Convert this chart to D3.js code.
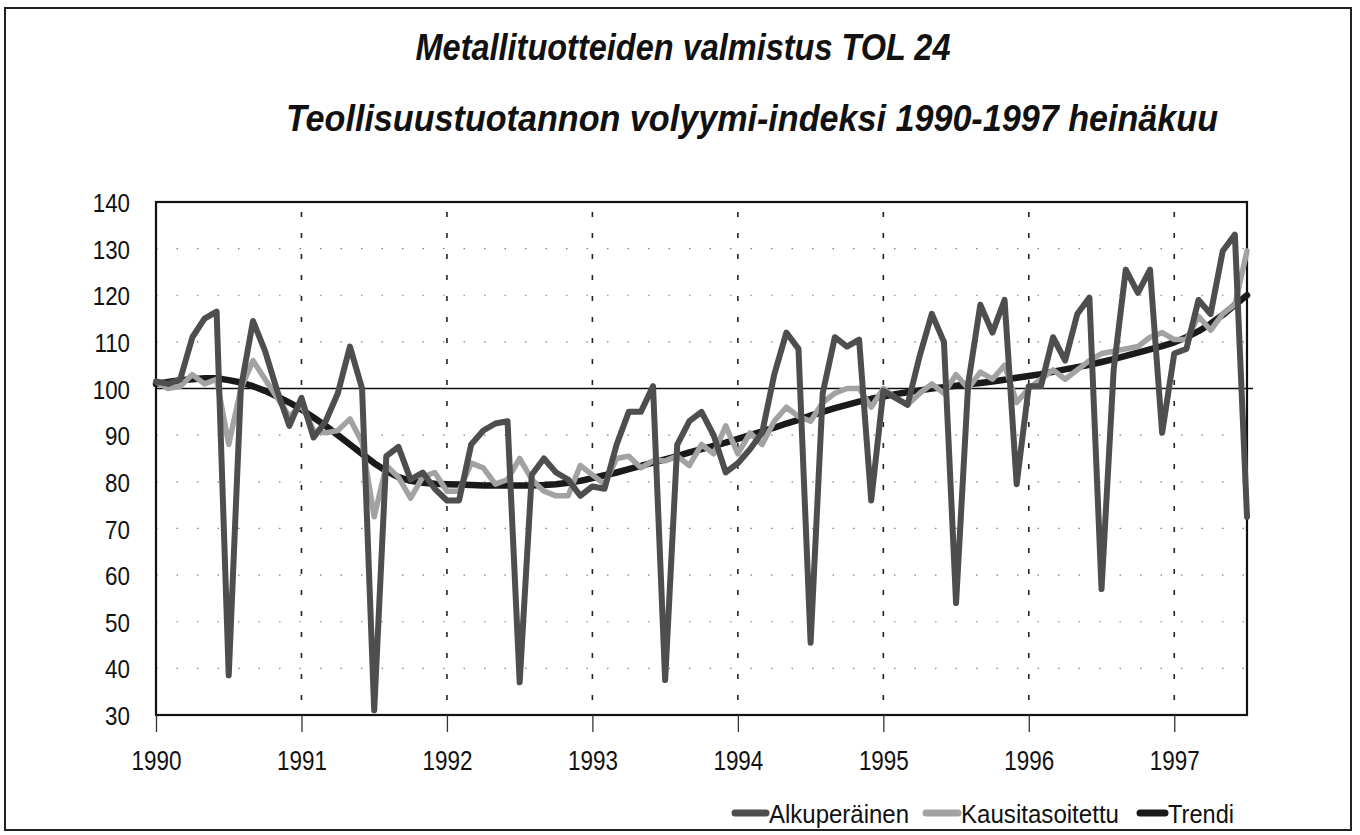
<!DOCTYPE html>
<html><head><meta charset="utf-8">
<script src="https://cdn.jsdelivr.net/npm/d3@7"></script>
<style>
html,body{margin:0;padding:0;background:#fff;}
svg{display:block;}
text{font-family:"Liberation Sans",Arial,sans-serif;fill:#111;}
</style></head><body>
<svg id="chart" width="1360" height="835"></svg>
<script>
const title1 = "Metallituotteiden valmistus TOL 24";
const title2 = "Teollisuustuotannon volyymi-indeksi 1990-1997 heinäkuu";
const seriesNames = ["Alkuperäinen", "Kausitasoitettu", "Trendi"];
const yearLabels = ["1990","1991","1992","1993","1994","1995","1996","1997"];
const yTicks = [30,40,50,60,70,80,90,100,110,120,130,140];

// months Jan 1990 .. Jul 1997
const months = [];
for (let yr = 1990; yr <= 1997; yr++) for (let m = 1; m <= 12; m++) {
  if (yr === 1997 && m > 7) break;
  months.push(yr + "-" + String(m).padStart(2, "0"));
}

const alkuperainen = [
  101.5,101,102,111,115,116.5,38.5,100,114.5,108,99.5,92,
  98,89.5,93,99,109,100,31,85.5,87.5,80.5,82,78.5,
  76,76,88,91,92.5,93,37,81.5,85,82,80.5,77,
  79,78.5,88,95,95,100.5,37.5,88,93,95,90,82,
  84,87,90.5,103,112,108.5,45.5,99,111,109,110.5,76,
  99.5,98,96.5,107,116,110,54,101,118,112,119,79.5,
  100.5,100.5,111,106,116,119.5,57,104,125.5,120.5,125.5,90.5,
  107.5,108.5,119,116,129.5,133,72.5
];
const kausitasoitettu = [
  101.5,100,100.5,103,101,102,88,100,106,102,98,94,
  96.5,91,90.5,91,93.5,88.5,72.5,83.5,81,76.5,81,82,
  78,78,84,83,79.5,80.5,85,80.5,78,77,77,83.5,
  81.5,79.5,85,85.5,83,84.5,84.5,85.5,83.5,88,86,92,
  86,90.5,88,93,96,94,93,97,99,100,100,96,
  100,98,96.5,99,101,99,103,100,103.5,102,105,97,
  100,102,104,102,104,106,107.5,108,108.5,109,111,112,
  110.5,110.5,115.5,112.5,116,118,129.5
];
const trendi = [
  101,101.4,101.8,102,102.2,102.2,101.8,101.3,100.5,99.5,98.3,97,
  95.5,93.8,92,90,88,86,84,82.3,81,80.2,79.8,79.6,
  79.5,79.4,79.3,79.2,79.2,79.2,79.2,79.2,79.3,79.5,79.8,80.2,
  80.8,81.4,82,82.7,83.4,84.1,84.8,85.5,86.3,87,87.7,88.4,
  89.2,90,90.8,91.6,92.5,93.3,94.2,95,95.8,96.5,97.2,97.8,
  98.3,98.8,99.2,99.6,100,100.3,100.6,100.9,101.2,101.5,101.9,102.3,
  102.7,103.1,103.6,104.1,104.6,105.1,105.7,106.3,107,107.7,108.4,109.1,
  109.9,111,112.3,113.9,115.8,117.9,120
];

const colors = {"Alkuperäinen": "#4e4e4e", "Kausitasoitettu": "#a2a2a2", "Trendi": "#1a1a1a"};
const widths = {"Alkuperäinen": 6, "Kausitasoitettu": 5.5, "Trendi": 6.5};

// condense text horizontally (the original uses a narrow Helvetica)
function condense(sel, factor) {
  sel.each(function() {
    const w = this.getComputedTextLength();
    d3.select(this).attr("textLength", (w * factor).toFixed(1)).attr("lengthAdjust", "spacingAndGlyphs");
  });
}

const svg = d3.select("#chart");
svg.append("rect").attr("width",1360).attr("height",835).attr("fill","#fff");

// outer frame
svg.append("rect").attr("x",5).attr("y",8).attr("width",1346).attr("height",822)
  .attr("fill","none").attr("stroke","#222").attr("stroke-width",2);

// titles
svg.append("text").text(title1).attr("x",683).attr("y",60).attr("text-anchor","middle")
  .attr("font-size",36).attr("font-weight","bold").attr("font-style","italic")
  .attr("textLength",535).attr("lengthAdjust","spacingAndGlyphs");
svg.append("text").text(title2).attr("x",752).attr("y",131).attr("text-anchor","middle")
  .attr("font-size",36).attr("font-weight","bold").attr("font-style","italic")
  .attr("textLength",932).attr("lengthAdjust","spacingAndGlyphs");

const frac = s => { const [a,b] = s.split("-").map(Number); return a + (b-1)/12; };
const x = d3.scaleLinear().domain([1990, 1997.5]).range([156, 1247]);
const y = d3.scaleLinear().domain([30, 140]).range([715, 202]);

const g = svg.append("g");

// horizontal dotted gridlines
g.selectAll("line.hg").data(yTicks.filter(v => v > 30 && v < 140 && v !== 100)).join("line")
  .attr("x1", x(1990)).attr("x2", x(1997.5)).attr("y1", d => y(d)).attr("y2", d => y(d))
  .attr("stroke","#808080").attr("stroke-width",1.2).attr("stroke-dasharray","1.5,19");

// vertical dashed gridlines
g.selectAll("line.vg").data(yearLabels.slice(1).map(Number)).join("line")
  .attr("x1", d => x(d)).attr("x2", d => x(d)).attr("y1", y(140)+10).attr("y2", y(30))
  .attr("stroke","#222").attr("stroke-width",1.6).attr("stroke-dasharray","5,16");

// 100 reference line
g.append("line").attr("x1", x(1990)).attr("x2", x(1997.5)+6).attr("y1", y(100)).attr("y2", y(100))
  .attr("stroke","#111").attr("stroke-width",1.6);

// plot border
g.append("rect").attr("x", x(1990)).attr("y", y(140)).attr("width", x(1997.5)-x(1990)).attr("height", y(30)-y(140))
  .attr("fill","none").attr("stroke","#111").attr("stroke-width",2.2);

// y axis labels
const yAxis = d3.axisLeft(y).tickValues(yTicks).tickSize(0).tickPadding(26);
const ya = svg.append("g").attr("transform",`translate(${x(1990)},0)`).call(yAxis);
ya.select(".domain").remove();
ya.selectAll("text").attr("font-size",26).attr("fill","#111").attr("font-family",null).attr("dy","0.37em");
condense(ya.selectAll("text"), 0.86);

// x axis
const xAxis = d3.axisBottom(x).tickValues(yearLabels.map(Number)).tickFormat((d,i)=>yearLabels[i]).tickSize(17).tickPadding(19);
const xa = svg.append("g").attr("transform",`translate(0,${y(30)})`).call(xAxis);
xa.select(".domain").remove();
xa.selectAll("line").attr("stroke","#333").attr("stroke-width",1.3);
xa.selectAll("text").attr("font-size",27).attr("fill","#111").attr("font-family",null);
condense(xa.selectAll("text"), 0.83);

// series lines
const data = [
  {name:"Trendi", values: trendi},
  {name:"Kausitasoitettu", values: kausitasoitettu},
  {name:"Alkuperäinen", values: alkuperainen}
];
const line = d3.line().x((d,i)=>x(frac(months[i]))).y(d=>y(d));
svg.append("g").selectAll("path").data(data).join("path")
  .attr("d", d => line(d.values))
  .attr("fill","none").attr("stroke", d => colors[d.name]).attr("stroke-width", d => widths[d.name])
  .attr("stroke-linejoin","round").attr("stroke-linecap","round");

// legend
const legendPos = [{x:732, w:36, tw:140}, {x:923, w:37, tw:158}, {x:1137, w:30, tw:66}];
const lg = svg.append("g");
seriesNames.forEach((n,i) => {
  const p = legendPos[i];
  lg.append("line").attr("x1",p.x+3).attr("x2",p.x+p.w-2).attr("y1",813).attr("y2",813)
    .attr("stroke",colors[n]).attr("stroke-width",7).attr("stroke-linecap","round");
  lg.append("text").text(n).attr("x",p.x+p.w+1).attr("y",823).attr("font-size",26)
    .attr("textLength",p.tw).attr("lengthAdjust","spacingAndGlyphs");
});
</script>
</body></html>
